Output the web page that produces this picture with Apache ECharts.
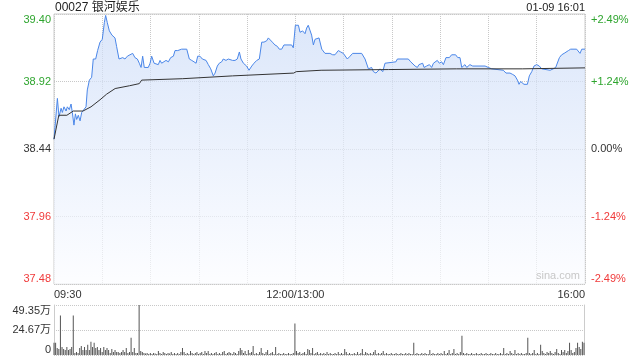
<!DOCTYPE html>
<html><head><meta charset="utf-8">
<script src="https://cdn.jsdelivr.net/npm/echarts@6/dist/echarts.min.js"></script>
<style>html,body{margin:0;padding:0;background:#fff}#c{width:640px;height:360px}</style>
</head><body><div id="c"></div>
<script>
const stockTitle = '00027 银河娱乐';
const stampText = '01-09 16:01';
const watermark = 'sina.com';
const xTickLabels = {0: '09:30', 150: '12:00/13:00', 330: '16:00'};
const priceTicks = ['37.48', '37.96', '38.44', '38.92', '39.40'];
const pctTicks = ['-2.49%', '-1.24%', '0.00%', '+1.24%', '+2.49%'];
const volTicks = ['0', '24.67万', '49.35万'];
const priceMin = 37.48, priceMax = 39.40;
const volMax = 49.35;

// minutes since 09:30 (lunch break removed) and price
const priceMinutes = [0,2.1,3.1,4.4,5.2,6.2,7.5,8.3,9.5,10.6,11.4,12.4,13.3,14.1,15.1,16.2,17.2,18.2,19.9,20.7,
22.0,23.4,24.4,25.9,27.1,28.6,30.0,31.3,32.1,33.1,34.4,36.0,37.9,38.9,40.4,41.4,42.7,44.1,45.6,47.2,
48.9,50.3,51.8,53.0,54.1,55.1,56.1,58.6,59.7,60.7,62.2,63.4,64.8,65.9,66.9,68.0,69.6,71.1,72.5,74.2,
75.2,76.9,79.3,82.5,84.1,85.6,87.0,88.3,89.3,90.7,92.2,93.4,94.5,95.9,97.4,99.0,100.1,101.5,102.7,104.2,
105.2,106.9,108.3,109.4,111.0,112.5,113.9,115.2,116.2,117.7,119.7,121.2,122.9,124.3,126.0,127.6,129.1,130.5,132.2,133.2,
134.2,135.7,137.3,138.8,140.0,141.5,142.9,147.7,148.7,150.0,151.9,152.9,154.5,156.0,157.0,158.0,159.1,160.1,161.2,162.2,
163.2,164.7,166.4,168.4,171.5,173.2,174.6,176.7,178.2,179.8,182.3,184.0,185.6,191.2,193.3,195.4,197.4,198.5,200.1,202.6,
204.3,205.7,206.8,212.5,213.4,220.2,221.7,224.4,225.8,226.8,227.9,229.1,230.0,231.6,233.3,234.7,235.8,237.0,238.2,239.5,
240.9,242.0,243.6,245.7,247.1,248.2,249.6,250.9,252.3,253.4,254.4,255.4,256.5,258.5,260.2,267.9,268.9,269.9,271.0,272.0,
279.2,280.9,283.4,285.1,286.5,288.0,289.0,290.0,291.1,292.1,294.2,295.4,296.9,298.3,300.0,301.6,303.1,308.3,309.3,310.3,
311.8,312.4,314.1,315.5,317.0,318.2,319.7,321.1,324.8,325.9,326.9,328.0,330.0];
const prices = [38.51,38.80,38.67,38.73,38.70,38.74,38.71,38.74,38.72,38.76,38.70,38.61,38.69,38.65,38.68,38.64,38.70,38.71,38.74,38.86,
38.93,38.95,39.08,39.08,39.14,39.20,39.22,39.34,39.39,39.34,39.28,39.25,39.23,39.17,39.08,39.07,39.09,39.08,39.10,39.11,
39.12,39.09,39.08,39.05,39.02,39.10,39.02,39.02,39.05,39.10,39.05,39.06,39.04,39.07,39.05,39.04,39.07,39.06,39.09,39.10,
39.14,39.14,39.15,39.15,39.08,39.07,39.06,39.05,39.10,39.10,39.08,39.07,39.07,39.04,39.01,38.96,38.98,39.03,39.05,39.06,
39.08,39.07,39.08,39.09,39.07,39.07,39.08,39.13,39.08,39.05,39.03,39.00,39.03,39.05,39.07,39.08,39.20,39.20,39.21,39.23,
39.22,39.20,39.18,39.17,39.15,39.15,39.18,39.18,39.16,39.32,39.32,39.27,39.28,39.26,39.30,39.32,39.31,39.25,39.18,39.22,
39.21,39.23,39.15,39.12,39.12,39.11,39.11,39.14,39.13,39.12,39.08,39.10,39.12,39.12,39.08,39.01,39.02,38.99,38.98,39.01,
38.99,39.05,39.06,39.06,39.08,39.08,39.06,39.03,39.02,39.04,39.03,39.05,39.02,39.03,39.04,39.02,39.05,39.05,39.07,39.05,
39.06,39.04,39.09,39.09,39.11,39.12,39.11,39.09,39.09,39.02,39.03,39.04,39.02,39.04,39.03,39.03,39.04,39.02,39.03,39.01,
39.00,38.98,38.98,38.97,38.96,38.93,38.90,38.92,38.91,38.90,38.90,38.96,38.99,39.03,39.04,39.03,39.01,39.00,38.99,39.01,
39.02,39.01,39.09,39.11,39.12,39.11,39.14,39.15,39.15,39.14,39.12,39.15,39.15];

// average price line
const avgMinutes = [0,3,8,12,18,23,28.6,32.7,38,47,53,54.5,80,111,149,150.5,166,208,250,291,330];
const avgPrices = [38.51,38.68,38.68,38.71,38.71,38.74,38.79,38.83,38.87,38.89,38.905,38.93,38.94,38.96,38.98,38.99,39.00,39.005,39.01,39.01,39.017];

// volume per minute (万)
const volumes = [
12,12,7,6,39,8,6,5,8,5,
6,8,39,2,3,2,7,9,5,8,
5,10,5,13,8,12,7,8,5,7,
3,8,5,7,5,2,6,3,5,3,
3,2,3,5,3,7,2,3,17,3,
7,2,2,49.35,4,3,2,1.5,2,1,
2,1,2,1.5,1,4,2,1,3,2,
1,2,1.5,3,1,2,1,2,1,3,
7,3,1,2,1,4,2,1,2,3,
1,2,3,1,4,2,4,1,2,1,
2,3,1,2,1,3,4,1,2,3,
2,1,3,2,1,4,7,5,2,4,
1,5,2,3,9,1,2,1,3,7,
2,1,3,5,1,2,3,1,8,1,
2,1,1,2,1,1,2,1,1,2,
31,4,2,3,1,2,3,1,6,5,
2,7,1,2,3,1,2,1,2,1,
3,1,2,1,1,2,1,3,1,2,
1,6,3,1,2,1,1,2,1,3,
1,2,6,1,3,2,1,2,1,3,
5,1,2,1,2,4,1,2,1,1,
2,1,1,2,1,1,2,1,1,2,
1,2,1,1,12,1,2,1,1,2,
1,2,1,1,5,1,2,1,1,2,
1,2,1,4,1,2,5,1,2,6,
1,2,1,3,19,2,1,2,1,1,
2,1,1,2,1,1,2,1,1,2,
1,1,2,1,1,2,1,1,2,1,
7,1,2,1,4,2,1,5,1,2,
1,2,1,1,2,17,2,1,2,5,
1,2,1,10,4,2,1,3,2,4,
2,1,3,6,2,1,5,3,5,2,
4,12,5,2,3,7,12,8,6,13,
12];

const GREEN = '#2ea52e', RED = '#f03a3a', DARK = '#333';
const FONT = '"Liberation Sans", Arial, "Noto Sans CJK SC", sans-serif';
function colorFor(v, labels) {
  let idx = labels.indexOf(String(v));
  if (idx < 0) idx = Math.round(Number(v));
  return idx < 2 ? RED : (idx === 2 ? DARK : GREEN);
}

const chart = echarts.init(document.getElementById('c'), null, {renderer: 'canvas'});
chart.setOption({
  animation: false,
  textStyle: {fontFamily: FONT},
  grid: [
    {left: 54, right: 55, top: 14, height: 270, show: true, borderColor: '#cccccc', borderWidth: 1, containLabel: false, outerBoundsMode: 'none'},
    {left: 54, right: 56, top: 305, height: 50, containLabel: false, outerBoundsMode: 'none'}
  ],
  xAxis: [
    {gridIndex: 0, type: 'value', min: 0, max: 330, interval: 30,
     axisLine: {show: false}, axisTick: {show: false},
     axisLabel: {show: true, margin: 5, fontSize: 11, color: DARK, fontFamily: FONT,
       formatter: v => xTickLabels[v] || '', alignMinLabel: 'left', alignMaxLabel: 'right',
       showMinLabel: true, showMaxLabel: true},
     splitLine: {show: true, lineStyle: {color: '#c8c8c8', type: 'dotted', width: 1}}},
    {gridIndex: 1, type: 'value', min: 0, max: 330,
     axisLine: {show: false}, axisTick: {show: false}, axisLabel: {show: false}, splitLine: {show: false}}
  ],
  yAxis: [
    {gridIndex: 0, type: 'value', min: priceMin, max: priceMax, show: false, splitLine: {show: false}},
    {gridIndex: 0, type: 'value', position: 'left', min: 0, max: 4, interval: 1,
     axisLine: {show: false}, axisTick: {show: false},
     axisLabel: {margin: 3, fontSize: 11, fontFamily: FONT, formatter: v => priceTicks[v],
       color: v => colorFor(v, priceTicks),
       verticalAlignMinLabel: 'bottom', verticalAlignMaxLabel: 'top'},
     splitLine: {show: true, lineStyle: {color: '#c8c8c8', type: 'dotted', width: 1}}},
    {gridIndex: 0, type: 'value', position: 'right', min: 0, max: 4, interval: 1,
     axisLine: {show: false}, axisTick: {show: false},
     axisLabel: {margin: 6, fontSize: 11, fontFamily: FONT, formatter: v => pctTicks[v],
       color: v => colorFor(v, pctTicks),
       verticalAlignMinLabel: 'bottom', verticalAlignMaxLabel: 'top'},
     splitLine: {show: false}},
    {gridIndex: 1, type: 'value', position: 'left', min: 0, max: volMax, interval: volMax / 2,
     axisLine: {show: true, lineStyle: {color: '#cccccc'}}, axisTick: {show: false},
     axisLabel: {margin: 3, fontSize: 11, color: DARK, fontFamily: FONT,
       formatter: v => volTicks[Math.round(v / (volMax / 2))],
       verticalAlignMinLabel: 'bottom', verticalAlignMaxLabel: 'top'},
     splitLine: {show: true, lineStyle: {color: '#c8c8c8', type: 'dotted', width: 1}}},
    {gridIndex: 1, type: 'value', position: 'right', min: 0, max: volMax,
     axisLine: {show: true, lineStyle: {color: '#cccccc'}}, axisTick: {show: false},
     axisLabel: {show: false}, splitLine: {show: false}}
  ],
  graphic: [
    {type: 'text', x: 55, y: 8, silent: true,
     style: {text: stockTitle, fill: '#222', font: '12px ' + FONT, align: 'left', verticalAlign: 'middle'}},
    {type: 'text', x: 585, y: 8, silent: true,
     style: {text: stampText, fill: '#222', font: '11px ' + FONT, align: 'right', verticalAlign: 'middle'}},
    {type: 'text', x: 580, y: 276, silent: true, z: 100,
     style: {text: watermark, fill: '#c8c8c8', font: '11px ' + FONT, align: 'right', verticalAlign: 'middle'}}
  ],
  series: [
    {type: 'line', xAxisIndex: 0, yAxisIndex: 0, showSymbol: false, silent: true,
     data: priceMinutes.map((m, i) => [m, prices[i]]),
     lineStyle: {color: '#4a86e8', width: 1},
     areaStyle: {origin: 'start', color: new echarts.graphic.LinearGradient(0, 14, 0, 284, [
       {offset: 0, color: '#cbdbf7'}, {offset: 1, color: '#fbfcff'}], true)}},
    {type: 'line', xAxisIndex: 0, yAxisIndex: 0, showSymbol: false, silent: true,
     data: avgMinutes.map((m, i) => [m, avgPrices[i]]),
     lineStyle: {color: '#333', width: 1}},
    {type: 'bar', xAxisIndex: 1, yAxisIndex: 3, silent: true, barWidth: 1,
     data: volumes.map((v, i) => [i, v]),
     itemStyle: {color: '#555'}}
  ]
});
</script></body></html>
